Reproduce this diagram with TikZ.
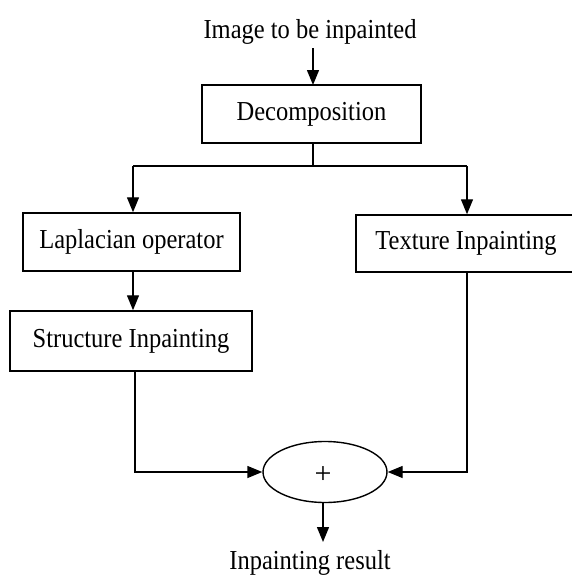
\documentclass[tikz,border=0pt]{standalone}
\usepackage{fontspec}
\usepackage{graphicx}
\setmainfont{Liberation Serif}
\usetikzlibrary{arrows.meta,shapes.geometric}
\newcommand{\tallt}[1]{\scalebox{1}[1.12]{#1}}
\begin{document}
\begin{tikzpicture}[x=1pt,y=-1pt,
  every node/.style={font=\fontsize{24.5}{28}\selectfont, inner sep=0pt},
  box/.style={draw, line width=1.5pt, rectangle, anchor=center},
  con/.style={line width=1.4pt},
  arr/.style={con, -{Triangle[length=15pt,width=12pt]}}]
\useasboundingbox (0,0) rectangle (571,576);
\node[anchor=base] (top) at (310,38) {\tallt{Image to be inpainted}};
\node[box, minimum width=219pt, minimum height=58pt] (dec) at (311.5,114) {\tallt{Decomposition}};
\node[box, minimum width=217pt, minimum height=58pt] (lap) at (131.5,242) {\tallt{Laplacian operator}};
\node[box, minimum width=242pt, minimum height=60pt] (str) at (131,341) {\tallt{Structure Inpainting}};
\node[box, minimum width=220pt, minimum height=57pt] (tex) at (466,243.5) {\tallt{Texture Inpainting}};
\node[draw, ellipse, line width=1.4pt, minimum width=124pt, minimum height=61pt] (sum) at (325,472) {};
\node[font=\fontsize{30}{32}\selectfont] (plus) at (323,475) {+};
\node[anchor=base] (res) at (310,569.5) {\tallt{Inpainting result}};
\coordinate (split) at (313,166);
\coordinate (sl) at (133,166);
\coordinate (sr) at (467,166);
\draw[arr] (313,48) -- (313,85);
\draw[con] (dec.south -| split) -- (split);
\draw[con] (sl) -- (sr);
\draw[arr] (sl) -- (sl |- lap.north);
\draw[arr] (sr) -- (sr |- tex.north);
\draw[arr] (lap.south -| sl) -- (sl |- str.north);
\draw[arr] (135,371) -- (135,472) -- (sum.west);
\draw[arr] (467,272) -- (467,472) -- (sum.east);
\draw[arr] (sum.south -| 323,0) -- (323,542);
\end{tikzpicture}
\end{document}
